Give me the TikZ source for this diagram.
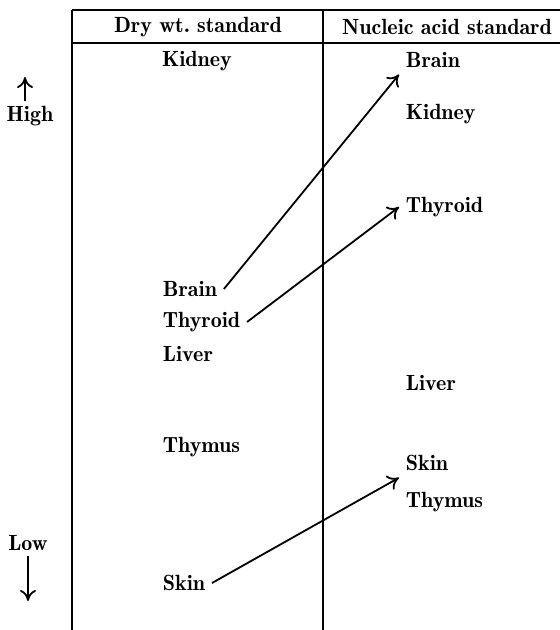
\documentclass[tikz,border=0pt]{standalone}
\usetikzlibrary{arrows.meta}

\begin{document}
\begin{tikzpicture}[
    x=0.5pt, y=-0.5pt, line width=0.9pt, >={To[length=5.5pt,width=8pt]},
    organ/.style={anchor=west, inner sep=3pt, font=\fontsize{11}{13}\fontseries{b}\selectfont},
    head/.style={inner sep=2pt, font=\fontsize{11}{13}\fontseries{b}\selectfont},
]
\useasboundingbox (0,0) rectangle (560,630);
\draw (72,10) -- (560,10);
\draw (72,43) -- (560,43);
\draw (72,10) -- (72,630);
\draw (323,10) -- (323,630);
\node[head] (drystd) at (198,27) {Dry wt.\ standard};
\node[head] (nucstd) at (447,27) {Nucleic acid standard};
\node[head] (dkidney) at (197,61) {Kidney};
\node[organ] (dbrain) at (156,289) {Brain};
\node[organ] (dthyroid) at (156,322) {Thyroid};
\node[organ] (dliver) at (156,354) {Liver};
\node[organ] (dthymus) at (156,447) {Thymus};
\node[organ] (dskin) at (156,583) {Skin};
\node[organ] (nbrain) at (399,60) {Brain};
\node[organ] (nkidney) at (399,114) {Kidney};
\node[organ] (nthyroid) at (399,207) {Thyroid};
\node[organ] (nliver) at (399,383) {Liver};
\node[organ] (nskin) at (399,463) {Skin};
\node[organ] (nthymus) at (399,502) {Thymus};
\node[head] (high) at (30,116) {High};
\node[head] (low) at (28,543) {Low};
\coordinate (uptip) at (25,77);
\coordinate (downtip) at (28,601);
\draw[->] (dbrain.east) -- (nbrain.south west);
\draw[->] (dthyroid.east) -- (nthyroid.west);
\draw[->] (dskin.east) -- (nskin.south west);
\draw[->] (high.north -| uptip) -- (uptip);
\draw[->] (low.south -| downtip) -- (downtip);
\end{tikzpicture}
\end{document}
